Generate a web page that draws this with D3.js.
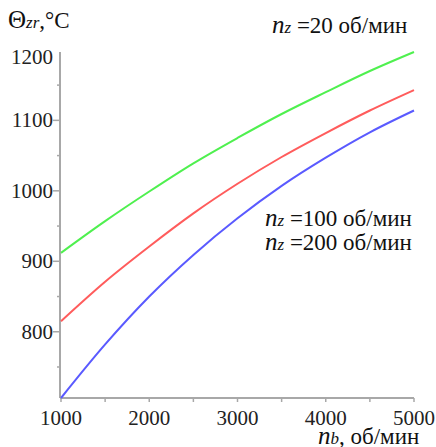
<!DOCTYPE html>
<html>
<head>
<meta charset="utf-8">
<script src="https://cdn.jsdelivr.net/npm/d3@7"></script>
<style>
  body { margin: 0; background: #fff; }
  svg { display: block; font-family: 'Liberation Serif', 'Times New Roman', serif; }
  .tick-label { font-size: 21px; fill: #222; }
</style>
</head>
<body>
<svg id="chart" width="436" height="447"></svg>
<script>
// nb, rpm
const nbValues = [1000, 1500, 2000, 2500, 3000, 3500, 4000, 4500, 5000];
// temperature, °C, for each nz
const theta20  = [912, 957, 999, 1039, 1075, 1109, 1140, 1170, 1197];
const theta100 = [815, 871, 921, 968, 1010, 1048, 1082, 1114, 1143];
const theta200 = [706, 782, 850, 909, 961, 1007, 1047, 1083, 1114];

const xTicks = [1000, 2000, 3000, 4000, 5000];
const xMinor = [1500, 2500, 3500, 4500];
const yTicks = [800, 900, 1000, 1100, 1200];
const yMinor = [750, 850, 950, 1050, 1150];

const seriesNames = ['20', '100', '200'];
const seriesColors = ['#4ff04f', '#ff5c5c', '#5a5aff'];

const svg = d3.select('#chart');

// axes extents in pixels
const plotLeft = 60, plotRight = 414, plotTop = 52, plotBottom = 398;

const x = d3.scaleLinear().domain([1000, 5000]).range([plotLeft + 1, plotRight]);
const y = d3.scaleLinear().domain([706, 1197]).range([plotBottom, plotTop]);

const axisColor = '#a8a8a8';

// x axis
const gx = svg.append('g');
gx.append('line')
  .attr('x1', plotLeft).attr('x2', plotRight)
  .attr('y1', plotBottom).attr('y2', plotBottom)
  .attr('stroke', axisColor).attr('stroke-width', 2);
gx.selectAll('.xt').data(xTicks.concat(xMinor)).enter().append('line')
  .attr('x1', d => x(d)).attr('x2', d => x(d))
  .attr('y1', plotBottom).attr('y2', plotBottom + 4)
  .attr('stroke', axisColor).attr('stroke-width', 1.5);
gx.selectAll('.xl').data(xTicks).enter().append('text')
  .attr('class', 'tick-label')
  .attr('x', d => x(d)).attr('y', 425)
  .attr('text-anchor', 'middle')
  .text(d => d);

// y axis
const gy = svg.append('g');
gy.append('line')
  .attr('x1', plotLeft).attr('x2', plotLeft)
  .attr('y1', plotTop).attr('y2', plotBottom)
  .attr('stroke', axisColor).attr('stroke-width', 2);
gy.selectAll('.yt').data(yTicks.filter(d => d < 1200)).enter().append('line')
  .attr('x1', plotLeft - 7).attr('x2', plotLeft)
  .attr('y1', d => y(d)).attr('y2', d => y(d))
  .attr('stroke', axisColor).attr('stroke-width', 1.5);
gy.selectAll('.ym').data(yMinor).enter().append('line')
  .attr('x1', plotLeft - 3).attr('x2', plotLeft)
  .attr('y1', d => y(d)).attr('y2', d => y(d))
  .attr('stroke', axisColor).attr('stroke-width', 1.5);
gy.selectAll('.yl').data(yTicks).enter().append('text')
  .attr('class', 'tick-label')
  .attr('x', 53).attr('y', d => Math.max(y(d), 57))
  .attr('dy', '0.34em')
  .attr('text-anchor', 'end')
  .text(d => d);

// curves
const line = d3.line()
  .x((d, i) => x(nbValues[i]))
  .y(d => y(d))
  .curve(d3.curveMonotoneX);

[theta20, theta100, theta200].forEach((s, i) => {
  svg.append('path')
    .datum(s)
    .attr('d', line)
    .attr('fill', 'none')
    .attr('stroke', seriesColors[i])
    .attr('stroke-width', 2);
});

// labels with italic symbol + subscript
function symbolLabel(px, py, main, sub, rest, mainItalic) {
  const t = svg.append('text').attr('x', px).attr('y', py).attr('fill', '#111');
  t.append('tspan').attr('font-size', 25)
    .attr('font-style', mainItalic ? 'italic' : 'normal').text(main);
  t.append('tspan').attr('font-size', 17).attr('font-style', 'italic').text(sub);
  t.append('tspan').attr('font-size', 23).text(rest);
  return t;
}

symbolLabel(8, 28, 'Θ', 'zr', ',°C', false);
symbolLabel(272, 33, 'n', 'z', ' =' + seriesNames[0] + ' об/мин', true);
symbolLabel(265, 226, 'n', 'z', ' =' + seriesNames[1] + ' об/мин', true);
symbolLabel(265, 250, 'n', 'z', ' =' + seriesNames[2] + ' об/мин', true);
symbolLabel(318, 444, 'n', 'b', ', об/мин', true);
</script>
</body>
</html>
